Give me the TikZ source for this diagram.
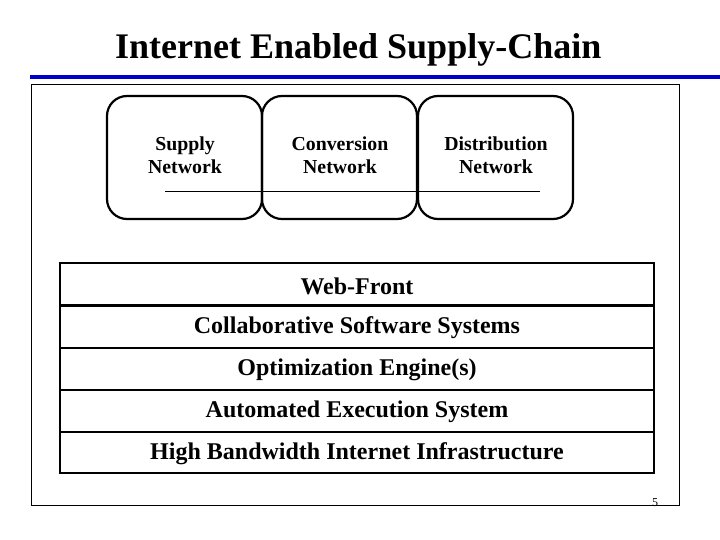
\documentclass[tikz,border=0pt]{standalone}
\usepackage{fontspec}
\setmainfont{Liberation Serif}
\begin{document}
\begin{tikzpicture}[x=1pt,y=-1pt,
  net/.style={draw,line width=2.2pt,rounded corners=20pt},
  layer/.style={draw,line width=1.3pt},
  lbl/.style={font=\bfseries\fontsize{24}{26}\selectfont,inner sep=0pt},
  nlbl/.style={font=\bfseries\fontsize{19.8}{23}\selectfont,align=center,inner sep=0pt}]
\useasboundingbox (0,0) rectangle (720,540);
\node[font=\bfseries\fontsize{36}{38}\selectfont,anchor=west,inner sep=0pt] (title) at (115,50) {Internet Enabled Supply-Chain};
\fill[blue!80!black] (30,75) rectangle (720,79);
\draw[line width=0.8pt] (31,84) rectangle (679,505);
\draw[net] (107,96) rectangle (262,219);
\draw[net] (262,96) rectangle (417,219);
\draw[net] (418,96) rectangle (573,219);
\draw[line width=0.8pt] (165,191) -- (540,191);
\node[nlbl] (sup) at (185,155) {Supply\\Network};
\node[nlbl] (con) at (340,155) {Conversion\\Network};
\node[nlbl] (dis) at (496,155) {Distribution\\Network};
\draw[layer] (60,263) rectangle (654,305);
\draw[layer,line width=2.2pt] (60,306) rectangle (654,348);
\draw[layer] (60,348) rectangle (654,390);
\draw[layer] (60,390) rectangle (654,432);
\draw[layer] (60,432) rectangle (654,473);
\node[lbl] (l1) at (357,286) {Web-Front};
\node[lbl] (l2) at (357,328) {Collaborative Software Systems};
\node[lbl] (l3) at (357,370) {Optimization Engine(s)};
\node[lbl] (l4) at (357,412) {Automated Execution System};
\node[lbl] (l5) at (357,454) {High Bandwidth Internet Infrastructure};
\node[font=\fontsize{12}{12}\selectfont,inner sep=0pt] (pg) at (655,503) {5};
\end{tikzpicture}
\end{document}
